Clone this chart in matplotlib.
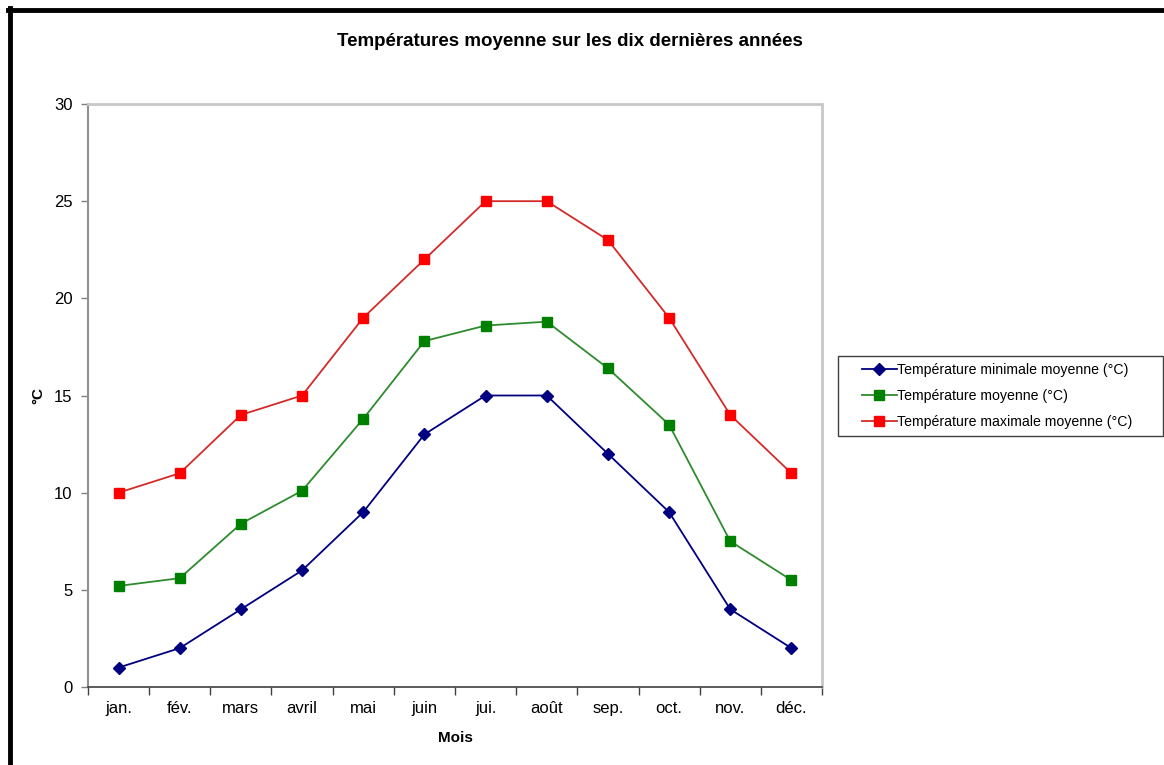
import matplotlib
matplotlib.use("Agg")
import matplotlib.pyplot as plt
from matplotlib.lines import Line2D
from matplotlib.patches import Rectangle

plt.rcParams['font.family'] = ['Liberation Sans', 'DejaVu Sans']

mois = ['jan.', 'fév.', 'mars', 'avril', 'mai', 'juin', 'jui.', 'août', 'sep.', 'oct.', 'nov.', 'déc.']
temp_min = [1, 2, 4, 6, 9, 13, 15, 15, 12, 9, 4, 2]
temp_moy = [5.2, 5.6, 8.4, 10.1, 13.8, 17.8, 18.6, 18.8, 16.4, 13.5, 7.5, 5.5]
temp_max = [10, 11, 14, 15, 19, 22, 25, 25, 23, 19, 14, 11]
yticks = [0, 5, 10, 15, 20, 25, 30]

W, H = 1164, 765
fig = plt.figure(figsize=(W / 100, H / 100), dpi=100)
ax = fig.add_axes([88/W, 78/H, (822-88)/W, (687-104)/H])

x = list(range(len(mois)))
ax.plot(x, temp_min, color='#000080', marker='D', markersize=6, linewidth=1.3,
        label='Température minimale moyenne (°C)')
ax.plot(x, temp_moy, color='#2e8b2e', marker='s', markersize=7, markerfacecolor='#008000',
        markeredgecolor='#008000', linewidth=1.3, label='Température moyenne (°C)')
ax.plot(x, temp_max, color='#d42a2a', marker='s', markersize=7, markerfacecolor='#ff0000',
        markeredgecolor='#ff0000', linewidth=1.3, label='Température maximale moyenne (°C)')

ax.set_xlim(-0.5, len(mois) - 0.5)
ax.set_ylim(0, 30)
ax.set_yticks(yticks)
ax.set_xticks(x)
ax.set_xticklabels(mois, fontsize=12)
ax.tick_params(axis='x', length=0, pad=10)
ax.set_xticks([i - 0.5 for i in range(len(mois) + 1)], minor=True)
ax.tick_params(axis='x', which='minor', length=6, width=1, color='#404040', direction='out')
ax.tick_params(axis='y', labelsize=12, length=5, width=1, color='#808080', pad=6)

for side in ['top', 'right']:
    ax.spines[side].set_color('#c8c8c8')
    ax.spines[side].set_linewidth(2)
ax.spines['left'].set_color('#909090')
ax.spines['left'].set_linewidth(1.5)
ax.spines['bottom'].set_color('#404040')
ax.spines['bottom'].set_linewidth(1.2)

ax.set_xlabel('Mois', fontsize=11, fontweight='bold', labelpad=11)
ax.set_ylabel('°C', fontsize=11, fontweight='bold')
ax.yaxis.set_label_coords((45 - 88) / 734, 0.5)
fig.text(570/W, 1 - 41/H, 'Températures moyenne sur les dix dernières années',
         ha='center', va='center', fontsize=13.5, fontweight='bold')

# légende : cadre dessiné à part
fig.add_artist(Rectangle((838/W, 1 - 436/H), (1163-838)/W, 80/H, transform=fig.transFigure,
                         facecolor='white', edgecolor='#404040', linewidth=1))
leg = fig.legend(loc='center left', bbox_to_anchor=(862/W, 1 - 396/H), fontsize=10.2,
                 frameon=False, handlelength=2.45, handletextpad=0.05, labelspacing=0.85,
                 borderpad=0, borderaxespad=0)

# cadre noir du graphique
fig.add_artist(Line2D([8/W, 1], [1 - 10/H, 1 - 10/H], color='black', linewidth=3.5,
                      transform=fig.transFigure))
fig.add_artist(Line2D([10/W, 10/W], [0, 1 - 8/H], color='black', linewidth=3.5,
                      transform=fig.transFigure))

fig.savefig('out.png', dpi=100)
